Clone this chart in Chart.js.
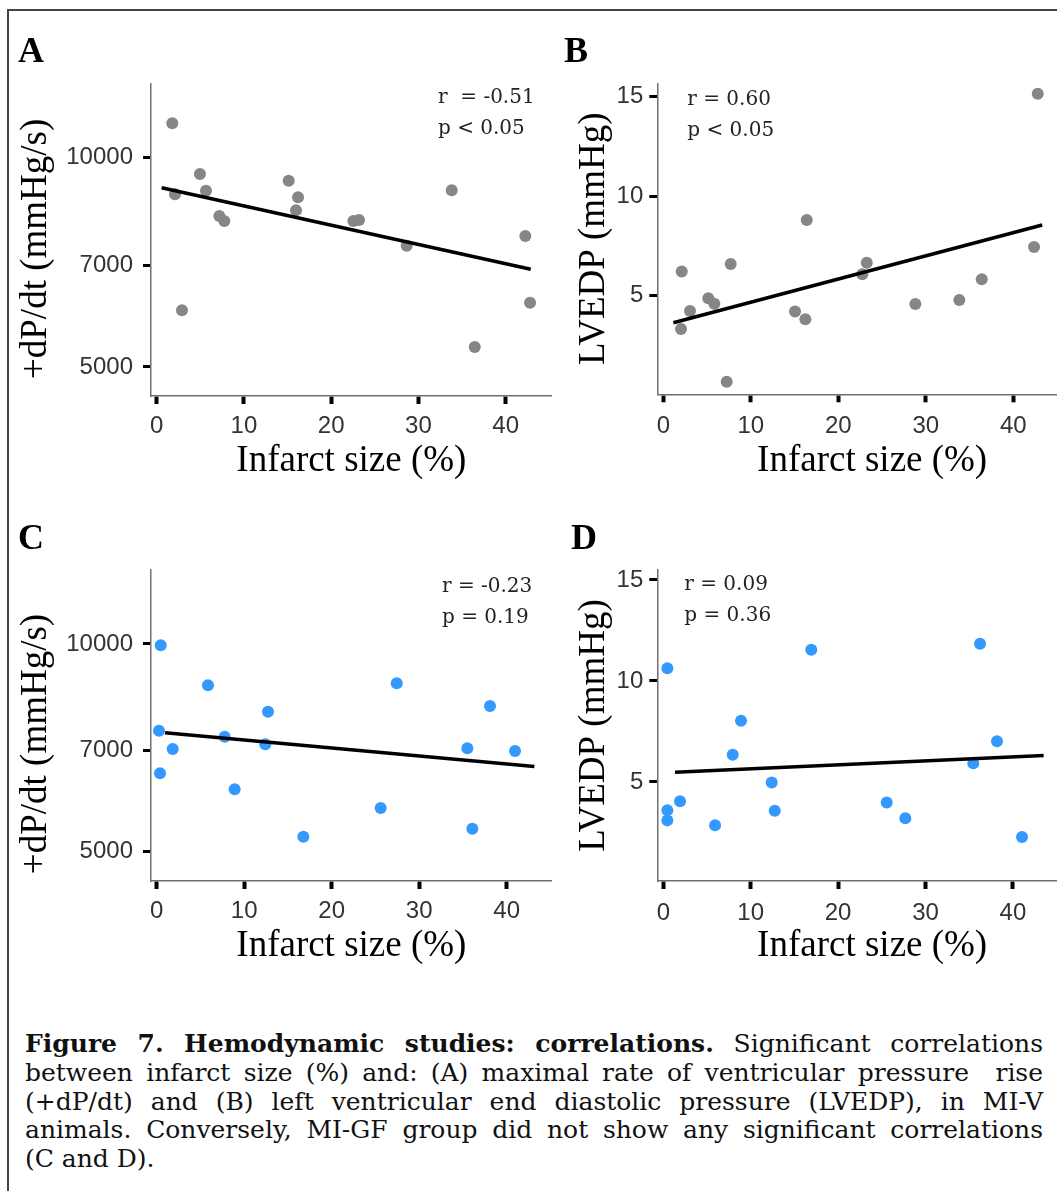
<!DOCTYPE html>
<html>
<head>
<meta charset="utf-8">
<script src="https://cdn.jsdelivr.net/npm/chart.js@4.4.0/dist/chart.umd.min.js"></script>
<style>
  html, body { margin: 0; padding: 0; overflow: hidden; background: #fff; }
  #page { position: relative; width: 1057px; height: 1191px; overflow: hidden; }
  #frame { position: absolute; left: 7px; top: 9px; width: 1100px; height: 1300px; border-left: 2px solid #444; border-top: 2px solid #444; }
  canvas { position: absolute; }
  .letter { position: absolute; font: bold 36px/36px "Liberation Serif", serif; color: #000; }
  #caption { position: absolute; left: 25px; top: 1030px; width: 1018px; font: 25px/28.75px "DejaVu Serif", serif; color: #111; }
  #caption div { text-align: justify; text-align-last: justify; white-space: nowrap; }
  #caption div.last { text-align-last: left; }
</style>
</head>
<body>
<div id="page">
  <div id="frame"></div>
  <canvas id="chartA" width="560" height="520" style="left:0;top:0"></canvas>
  <canvas id="chartB" width="527" height="520" style="left:560px;top:0"></canvas>
  <canvas id="chartC" width="560" height="520" style="left:0;top:486px"></canvas>
  <canvas id="chartD" width="527" height="520" style="left:560px;top:486px"></canvas>
  <div class="letter" style="left:18px;top:32px">A</div>
  <div class="letter" style="left:564px;top:32px">B</div>
  <div class="letter" style="left:18px;top:519px">C</div>
  <div class="letter" style="left:571px;top:519px">D</div>
  <div id="caption">
    <div><b>Figure 7. Hemodynamic studies: correlations.</b> Significant correlations</div>
    <div>between infarct size (%) and: (A) maximal rate of ventricular pressure &nbsp;rise</div>
    <div>(+dP/dt) and (B) left ventricular end diastolic pressure (LVEDP), in MI-V</div>
    <div>animals. Conversely, MI-GF group did not show any significant correlations</div>
    <div class="last">(C and D).</div>
  </div>
</div>
<script>
var xTicks = [0, 10, 20, 30, 40];
var dpdtTicks = [5000, 7000, 10000];
var lvedpTicks = [5, 10, 15];

// MI-V group (A, B)
var infarctA = [1.79, 2.10, 2.90, 4.96, 5.65, 7.18, 7.75, 15.13, 16.20, 15.97, 22.54, 23.19, 28.65, 33.81, 36.45, 42.25, 42.79];
var dpdtA = [11205, 8858, 6033, 9475, 8966, 8244, 8109, 9267, 8771, 8402, 8109, 8136, 7472, 8977, 5341, 7718, 6186];
var fitXA = [0.57, 42.87];
var fitYA = [9055, 6910];

var infarctB = [42.79, 2.10, 2.02, 3.05, 5.14, 5.83, 7.70, 7.24, 16.39, 15.05, 16.23, 23.25, 22.74, 28.80, 33.83, 36.39, 42.37];
var lvedpB = [15.14, 6.21, 3.33, 4.23, 4.87, 4.60, 6.59, 0.68, 8.80, 4.20, 3.81, 6.66, 6.08, 4.58, 4.78, 5.82, 7.45];
var fitXB = [1.14, 43.3];
var fitYB = [3.64, 8.55];

// MI-GF group (C, D)
var infarctC = [0.46, 0.26, 0.38, 1.83, 5.86, 7.77, 8.91, 12.72, 12.41, 16.76, 25.60, 27.43, 35.50, 36.07, 38.09, 40.95];
var dpdtC = [9957, 7488, 6497, 7043, 8712, 7340, 6157, 7976, 7155, 5257, 5784, 8772, 7059, 5399, 8131, 6996];
var fitXC = [0.95, 43.16];
var fitYC = [7437, 6642];

var infarctD = [0.46, 0.46, 0.46, 1.91, 5.92, 7.94, 8.89, 12.40, 12.75, 16.93, 25.56, 27.69, 35.47, 36.24, 38.18, 41.04];
var lvedpD = [10.63, 3.60, 3.10, 4.05, 2.86, 6.35, 8.03, 4.98, 3.58, 11.54, 3.99, 3.20, 5.93, 11.84, 7.01, 2.28];
var fitXD = [1.34, 43.52];
var fitYD = [5.48, 6.31];

var statsA = ['r  = -0.51', 'p < 0.05'];
var statsB = ['r = 0.60', 'p < 0.05'];
var statsC = ['r = -0.23', 'p = 0.19'];
var statsD = ['r = 0.09', 'p = 0.36'];

var GRAY = '#868686';
var BLUE = '#3399ff';

function pairs(xs, ys) {
  var out = [];
  for (var i = 0; i < xs.length; i++) out.push({ x: xs[i], y: ys[i] });
  return out;
}

var statText = {
  id: 'statText',
  afterDraw: function (chart, args, opts) {
    var ctx = chart.ctx, area = chart.chartArea;
    ctx.save();
    ctx.font = '20px "DejaVu Serif"';
    ctx.fillStyle = '#222';
    ctx.textBaseline = 'alphabetic';
    for (var i = 0; i < opts.lines.length; i++) {
      ctx.fillText(opts.lines[i], area.left + opts.dx, area.top + opts.dy + i * opts.gap);
    }
    ctx.restore();
  }
};

function makePanel(p) {
  var tickFont = { family: '"Liberation Sans", sans-serif', size: 24 };
  var titleFont = { family: '"Liberation Serif", serif', size: 37 };
  new Chart(document.getElementById(p.id), {
    type: 'scatter',
    data: {
      datasets: [
        { type: 'line', data: pairs(p.fitX, p.fitY), borderColor: '#000', borderWidth: 3.5,
          pointRadius: 0, fill: false, order: 0 },
        { data: pairs(p.xs, p.ys), backgroundColor: p.color, borderWidth: 0,
          pointRadius: 6, order: 1 }
      ]
    },
    options: {
      responsive: false,
      animation: false,
      events: [],
      layout: { autoPadding: false, padding: { top: p.padTop, left: 0, right: p.padRight, bottom: 0 } },
      plugins: {
        legend: { display: false },
        tooltip: { enabled: false },
        statText: { lines: p.stats, dx: p.statDx, dy: p.statDy, gap: 31 }
      },
      scales: {
        x: {
          type: 'linear', min: p.xMin, max: p.xMax, bounds: 'data',
          afterBuildTicks: function (s) { s.ticks = xTicks.map(function (v) { return { value: v }; }); },
          afterFit: function (s) { s.height = p.xAxisH; },
          grid: { display: true, drawOnChartArea: false, drawTicks: true, tickLength: 8, tickWidth: 4, tickColor: '#000' },
          border: { display: true, color: '#707070', width: 1.5 },
          ticks: { font: tickFont, color: '#333', padding: p.xPad, maxRotation: 0, autoSkip: false,
            callback: function (v) { return String(v); } },
          title: { display: true, text: 'Infarct size (%)', font: titleFont, color: '#000',
            padding: { top: 0, bottom: p.xTitlePad } }
        },
        y: {
          type: p.yType, min: p.yMin, max: p.yMax, bounds: 'data',
          afterBuildTicks: function (s) { s.ticks = p.yTicks.map(function (v) { return { value: v }; }); },
          afterFit: function (s) { s.width = p.yAxisW; },
          grid: { display: true, drawOnChartArea: false, drawTicks: true, tickLength: 8, tickWidth: 3, tickColor: '#000' },
          border: { display: true, color: '#707070', width: 1.5 },
          ticks: { font: tickFont, color: '#333', padding: p.yPad, autoSkip: false,
            callback: function (v) { return String(v); } },
          title: { display: true, text: p.yTitle, font: titleFont, color: '#000',
            padding: { top: p.yTitlePad, bottom: 0 } }
        }
      }
    },
    plugins: [statText]
  });
}

// trailing spaces nudge the rotated titles down toward the x axis, as in the figure
makePanel({ id: 'chartA', xs: infarctA, ys: dpdtA, fitX: fitXA, fitY: fitYA, color: GRAY, stats: statsA,
  yType: 'logarithmic', yMin: 4542, yMax: 12794, yTicks: dpdtTicks, yTitle: '+dP/dt (mmHg/s)  ',
  xMin: -0.65, xMax: 45.27, padTop: 83.3, padRight: 8.3, yAxisW: 151, xAxisH: 124,
  xPad: 8, yPad: 10, xTitlePad: 37, yTitlePad: 14, statDx: 287, statDy: 20 });

makePanel({ id: 'chartB', xs: infarctB, ys: lvedpB, fitX: fitXB, fitY: fitYB, color: GRAY, stats: statsB,
  yType: 'linear', yMin: 0.045, yMax: 15.67, yTicks: lvedpTicks, yTitle: 'LVEDP (mmHg)',
  xMin: -0.69, xMax: 48.42, padTop: 83.3, padRight: 0, yAxisW: 97.3, xAxisH: 125.7,
  xPad: 10, yPad: 6, xTitlePad: 37, yTitlePad: 12, statDx: 30, statDy: 22 });

makePanel({ id: 'chartC', xs: infarctC, ys: dpdtC, fitX: fitXC, fitY: fitYC, color: BLUE, stats: statsC,
  yType: 'logarithmic', yMin: 4534, yMax: 12801, yTicks: dpdtTicks, yTitle: '+dP/dt (mmHg/s)    ',
  xMin: -0.65, xMax: 45.14, padTop: 84, padRight: 8.3, yAxisW: 151, xAxisH: 125,
  xPad: 8, yPad: 10, xTitlePad: 38, yTitlePad: 14, statDx: 291, statDy: 21.5 });

makePanel({ id: 'chartD', xs: infarctD, ys: lvedpD, fitX: fitXD, fitY: fitYD, color: BLUE, stats: statsD,
  yType: 'linear', yMin: 0.10, yMax: 15.49, yTicks: lvedpTicks, yTitle: 'LVEDP (mmHg)',
  xMin: -0.69, xMax: 48.48, padTop: 84, padRight: 0, yAxisW: 97.3, xAxisH: 125,
  xPad: 10, yPad: 6, xTitlePad: 38, yTitlePad: 12, statDx: 27, statDy: 20 });
</script>
</body>
</html>
